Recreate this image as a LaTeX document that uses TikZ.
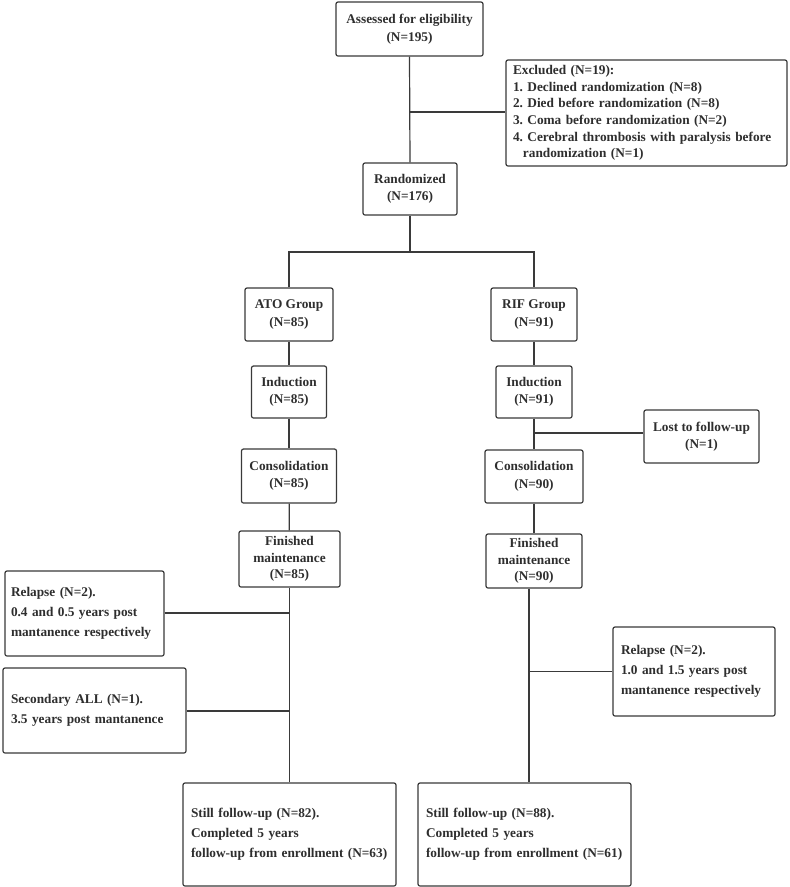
\documentclass[tikz,border=0pt]{standalone}
\usepackage{fontspec}
\setmainfont{Liberation Serif}
\definecolor{linegray}{HTML}{3A3A3A}
\definecolor{txtgray}{HTML}{2E2E2E}
\begin{document}
\frenchspacing
\begin{tikzpicture}[x=1pt,y=-1pt,
  box/.style={draw=linegray, line width=1.2pt, rounded corners=2pt, inner sep=0pt,
    text=txtgray, font=\bfseries\fontsize{13.3}{17.5}\selectfont, align=center},
  lbox/.style={box, align=left},
  conn/.style={draw=linegray, line width=1.2pt}]
\useasboundingbox (0,0) rectangle (790,887);
\fill[white] (0,0) rectangle (790,887);

\node[box, minimum width=147pt, minimum height=54pt] (assess) at (409.5,29) {Assessed for eligibility\\(N=195)};
\node[lbox, minimum width=281pt, minimum height=106pt, text width=267pt, font=\bfseries\fontsize{13.3}{16.7}\selectfont] (excl) at (646.5,113)
  {Excluded (N=19):\\1. Declined randomization (N=8)\\2. Died before randomization (N=8)\\3. Coma before randomization (N=2)\\4. Cerebral thrombosis with paralysis before\\\hspace*{0.75em}randomization (N=1)};
\node[box, minimum width=94pt, minimum height=52pt] (rand) at (410,189) {Randomized\\(N=176)};
\node[box, minimum width=88pt, minimum height=53pt] (ato) at (289,314.5) {ATO Group\\(N=85)};
\node[box, minimum width=86pt, minimum height=53pt] (rif) at (534,314.5) {RIF Group\\(N=91)};
\node[box, minimum width=75pt, minimum height=52pt] (indL) at (289,392) {Induction\\(N=85)};
\node[box, minimum width=76pt, minimum height=52pt] (indR) at (534,392) {Induction\\(N=91)};
\node[box, minimum width=95pt, minimum height=54pt] (conL) at (289,476) {Consolidation\\(N=85)};
\node[box, minimum width=98pt, minimum height=53pt] (conR) at (534,476.5) {Consolidation\\(N=90)};
\node[box, minimum width=115pt, minimum height=53pt] (lost) at (701.5,436.5) {Lost to follow-up\\(N=1)};
\node[box, minimum width=101pt, minimum height=56pt, font=\bfseries\fontsize{13.3}{16.5}\selectfont] (finL) at (289.5,559) {Finished\\maintenance\\(N=85)};
\node[box, minimum width=96pt, minimum height=54pt, font=\bfseries\fontsize{13.3}{16.5}\selectfont] (finR) at (534,561) {Finished\\maintenance\\(N=90)};
\node[lbox, minimum width=159pt, minimum height=85pt, text width=147pt, font=\bfseries\fontsize{13.3}{20}\selectfont] (relL) at (84.5,613.5)
  {Relapse (N=2).\\0.4 and 0.5 years post\\mantanence respectively};
\node[lbox, minimum width=183pt, minimum height=85pt, text width=167pt, font=\bfseries\fontsize{13.3}{20}\selectfont] (sec) at (94.5,710.5)
  {Secondary ALL (N=1).\\3.5 years post mantanence};
\node[lbox, minimum width=162pt, minimum height=89pt, text width=146pt, font=\bfseries\fontsize{13.3}{20}\selectfont] (relR) at (694,671.5)
  {Relapse (N=2).\\1.0 and 1.5 years post\\mantanence respectively};
\node[lbox, minimum width=213pt, minimum height=103pt, text width=197pt, font=\bfseries\fontsize{13.3}{20}\selectfont] (stillL) at (289.5,834.5)
  {Still follow-up (N=82).\\Completed 5 years\\follow-up from enrollment (N=63)};
\node[lbox, minimum width=213pt, minimum height=103pt, text width=197pt, font=\bfseries\fontsize{13.3}{20}\selectfont] (stillR) at (524.5,834.5)
  {Still follow-up (N=88).\\Completed 5 years\\follow-up from enrollment (N=61)};

\coordinate (exJ) at (409.5,112);
\coordinate (split) at (410,252);
\coordinate (lj) at (534,433);
\coordinate (j1) at (289.5,613);
\coordinate (j2) at (289.5,711);
\coordinate (rl) at (529,0);

\draw[conn] (assess.south) -- (rand.north);
\draw[conn] (exJ) -- (excl.west |- exJ);
\draw[conn] (rand.south) -- (split);
\draw[conn] (ato.north) |- (split) -| (rif.north);
\draw[conn] (ato) -- (indL);
\draw[conn] (indL) -- (conL);
\draw[conn] (conL) -- (finL);
\draw[conn] (rif) -- (indR);
\draw[conn] (indR) -- (conR);
\draw[conn] (conR) -- (finR);
\draw[conn] (lj) -- (lost.west |- lj);
\draw[conn] (finL.south) -- (stillL.north);
\draw[conn] (relL.east |- j1) -- (j1);
\draw[conn] (sec.east |- j2) -- (j2);
\draw[conn] (rl |- finR.south) -- (rl |- stillR.north);
\draw[conn] (relR.west) -- (rl |- relR.west);
\end{tikzpicture}
\end{document}
